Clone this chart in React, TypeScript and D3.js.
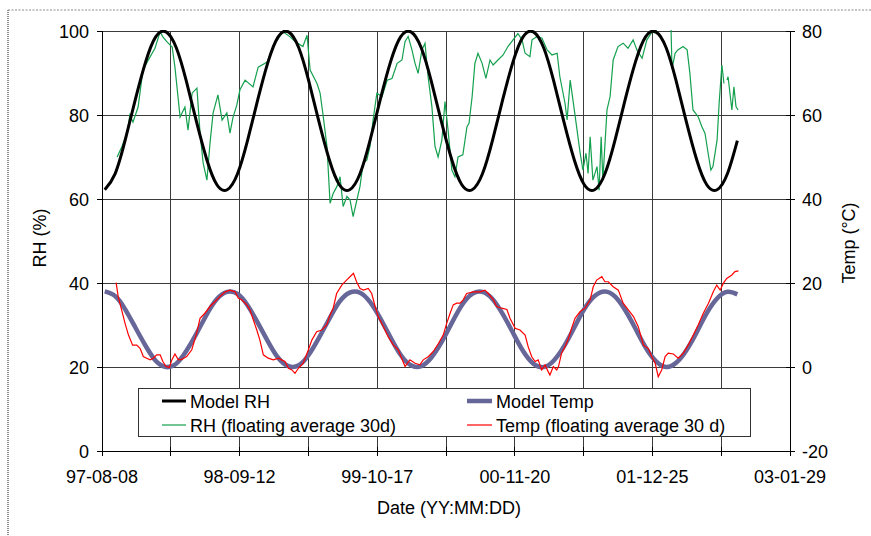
import React from "react";
import * as d3 from "d3";

const W = 871;
const H = 536;
const plot = { left: 102, right: 790, top: 31, bottom: 451 };

// x axis is days since 97-08-08
const dateLabels = ["97-08-08", "98-09-12", "99-10-17", "00-11-20", "01-12-25", "03-01-29"];
const rhTicks = [0, 20, 40, 60, 80, 100];
const tempTicks = [-20, 0, 20, 40, 60, 80];

// model curves (sampled about monthly)
const modelDay = [8, 38, 67, 97, 127, 156, 186, 216, 245, 275, 305, 334, 364, 394, 423, 453, 483, 512, 542, 572, 601, 631, 661, 690, 720, 750, 779, 809, 839, 868, 898, 928, 957, 987, 1017, 1046, 1076, 1106, 1135, 1165, 1195, 1224, 1254, 1284, 1313, 1343, 1373, 1402, 1432, 1462, 1491, 1521, 1551, 1580, 1610, 1640, 1669, 1699, 1729, 1758, 1788, 1818, 1847];
const modelRh = [
  62.2, 66.0, 73.9, 83.7, 92.7, 98.6, 99.8, 96.0, 88.1, 78.3, 69.3, 63.4,
  62.2, 66.0, 73.9, 83.7, 92.7, 98.6, 99.8, 96.0, 88.1, 78.3, 69.3, 63.4,
  62.2, 66.0, 73.9, 83.7, 92.7, 98.6, 99.8, 96.0, 88.1, 78.3, 69.3, 63.4,
  62.2, 66.0, 73.9, 83.7, 92.7, 98.6, 99.8, 96.0, 88.1, 78.3, 69.3, 63.4,
  62.2, 66.0, 73.9, 83.7, 92.7, 98.6, 99.8, 96.0, 88.1, 78.3, 69.3, 63.4,
  62.2, 66.0, 73.9,
];
const modelTemp = [
  18.0, 16.9, 13.8, 9.4, 5.0, 1.5, 0.0, 0.8, 3.8, 8.0, 12.6, 16.2,
  17.9, 17.4, 14.7, 10.5, 6.0, 2.2, 0.2, 0.4, 2.9, 7.0, 11.5, 15.5,
  17.7, 17.7, 15.5, 11.6, 7.0, 2.9, 0.4, 0.2, 2.2, 5.9, 10.5, 14.7,
  17.4, 17.9, 16.2, 12.6, 8.1, 3.8, 0.8, 0.0, 1.5, 4.9, 9.4, 13.8,
  16.9, 18.0, 16.8, 13.5, 9.1, 4.7, 1.4, 0.0, 1.0, 4.0, 8.3, 12.8,
  16.3, 17.9, 17.3,
];

// RH, floating average 30 d
const rhDay = [44, 58, 73, 81, 90, 105, 119, 134, 154, 169, 177, 189, 204, 212, 227, 241, 250, 262, 276, 285, 294, 305, 314, 323, 337, 349, 363, 372, 381, 392, 401, 416, 439, 454, 480, 503, 526, 547, 561, 584, 596, 605, 625, 634, 642, 654, 663, 672, 683, 692, 701, 712, 721, 730, 741, 750, 759, 770, 779, 788, 799, 814, 829, 843, 858, 872, 881, 890, 901, 910, 919, 930, 939, 948, 959, 968, 977, 988, 997, 1006, 1017, 1026, 1035, 1049, 1061, 1067, 1076, 1084, 1093, 1105, 1116, 1128, 1137, 1151, 1166, 1180, 1195, 1209, 1221, 1230, 1244, 1250, 1265, 1279, 1294, 1308, 1323, 1331, 1346, 1352, 1361, 1369, 1381, 1390, 1398, 1407, 1413, 1419, 1427, 1439, 1445, 1451, 1456, 1468, 1477, 1486, 1500, 1515, 1529, 1544, 1555, 1570, 1584, 1599, 1608, 1619, 1640, 1654, 1657, 1666, 1674, 1689, 1701, 1709, 1718, 1733, 1744, 1753, 1762, 1770, 1776, 1788, 1794, 1802, 1808, 1812, 1817, 1820, 1831, 1837, 1843, 1849];
const rhVal = [70, 72.5, 75.7, 80, 78.3, 81.9, 90.7, 93, 95.9, 99.8, 98.6, 97.4, 96.2, 91.4, 79.5, 81.9, 76.4, 85.2, 86.4, 75.7, 68.6, 64.5, 73.3, 80.5, 84.8, 78.8, 80.5, 75.7, 79.5, 82.4, 86, 88.3, 86.7, 91.4, 92.6, 97.1, 99.8, 98.6, 97.5, 96.3, 99, 90.7, 87.5, 85.2, 80.4, 72.5, 59, 61.3, 63, 65.3, 58.2, 60.6, 59.8, 55.8, 59.8, 63, 68.5, 69.3, 72.5, 78.8, 85.2, 84.4, 88.3, 88.7, 92.3, 93.1, 97.5, 98.7, 95.5, 92.3, 89.9, 95.5, 97.1, 89.1, 82, 72.5, 70, 74, 83.2, 76.4, 66.9, 65.3, 70, 70.5, 77.2, 78, 84.4, 92.3, 94.7, 92.3, 88.7, 93.1, 91.9, 93.1, 94.3, 96.3, 97.9, 99.4, 97.9, 94.7, 93.9, 97.9, 98.7, 98.3, 95.5, 94.3, 94.7, 89.1, 82.8, 78.8, 88.3, 83.6, 76.4, 70.9, 66.9, 70.9, 66.1, 74.8, 64.5, 67.7, 62.1, 74.8, 64.5, 81.2, 84.4, 93.1, 96.3, 97.1, 95.9, 97.9, 95.5, 93.5, 97.9, 99.8, 99.5, 101.5, 102, 101, 91, 94.7, 95.5, 96.3, 95.5, 89.9, 81.2, 79.6, 77.2, 75.6, 70.9, 66.9, 67.7, 74, 82.8, 91.9, 87.5, null, 88.3, 89.1, 81.2, 86.7, 82, 81.2];

// Temp, floating average 30 d
const tDay = [41, 47, 57, 67, 77, 89, 101, 111, 120, 130, 140, 149, 159, 169, 177, 186, 196, 203, 212, 222, 232, 246, 261, 275, 285, 299, 314, 329, 343, 358, 372, 387, 396, 406, 421, 430, 440, 450, 459, 469, 483, 498, 513, 522, 532, 542, 552, 561, 571, 585, 600, 610, 624, 639, 653, 663, 672, 682, 697, 711, 726, 731, 740, 750, 760, 774, 784, 794, 803, 818, 832, 847, 861, 871, 881, 895, 910, 924, 934, 949, 963, 978, 992, 1002, 1012, 1021, 1031, 1041, 1050, 1060, 1079, 1099, 1113, 1123, 1138, 1147, 1162, 1177, 1186, 1201, 1215, 1230, 1239, 1249, 1259, 1268, 1278, 1288, 1297, 1302, 1312, 1322, 1327, 1336, 1346, 1356, 1365, 1375, 1390, 1404, 1419, 1428, 1438, 1453, 1462, 1472, 1486, 1501, 1515, 1530, 1545, 1559, 1574, 1588, 1598, 1608, 1617, 1627, 1637, 1646, 1661, 1675, 1690, 1704, 1719, 1733, 1748, 1763, 1777, 1787, 1797, 1806, 1816, 1831, 1840, 1850];
const tVal = [20.1, 16.8, 13.6, 10.4, 7.6, 5.2, 5.2, 4.4, 2.5, 2.1, 1.7, 2.1, 2.9, 2.9, 1.3, 0.1, -0.1, 1.7, 3.1, 1.7, 1.8, 2.5, 4.1, 8, 11.6, 12.8, 14.4, 15.6, 16.8, 17.9, 18.3, 17.9, 16.4, 16, 14.8, 13.6, 11.2, 8.8, 6.4, 2.9, 2.1, 1.7, 2.1, 1.7, 1.3, -0.3, -0.7, -1.5, -0.3, 0.9, 4.1, 6.4, 8.4, 8.8, 10, 12.4, 14, 17.5, 19.5, 20.7, 21.9, 22.3, 20.3, 18.7, 18.3, 18.7, 17.5, 14.4, 12, 9.6, 7.2, 5.2, 4.1, 2.1, 0.1, 1.7, 0.9, 0.5, 1.7, 2.5, 3.7, 5.6, 7.6, 10.4, 12.8, 14.8, 15.2, 15.2, 16, 17.5, 17.9, 17.9, 18.3, 17.5, 16, 14.4, 14, 13.7, 11.6, 9.2, 8.8, 7.6, 4.8, 2.5, 1.3, 1.7, -0.7, 0.5, -1.1, -1.9, 0.1, -0.7, 0.1, 3.3, 4.8, 6.8, 9.2, 11.6, 13.2, 14, 16, 19.1, 20.7, 21.5, 20.3, 20.3, 19.1, 18.3, 15.2, 13.6, 12, 9.6, 5.2, 4.4, 2.5, 0.9, -2.3, -0.7, 2.5, 3.3, 3.1, 2.1, 3.3, 5.2, 7.6, 10, 12.8, 15.2, 17.9, 19.5, 18.3, 19.9, 21.1, 21.9, 22.7, 22.9];

type Pt = { d: number; v: number | null };
const zip = (ds: number[], vs: (number | null)[]): Pt[] => ds.map((d, i) => ({ d, v: vs[i] }));

const font = "'Liberation Sans', Arial, sans-serif";

export default function App() {
  const x = d3.scaleLinear().domain([0, 2000]).range([plot.left, plot.right]);
  const yL = d3.scaleLinear().domain([0, 100]).range([plot.bottom, plot.top]);
  const yR = d3.scaleLinear().domain([-20, 80]).range([plot.bottom, plot.top]);

  const lineL = d3
    .line<Pt>()
    .defined((p) => p.v != null)
    .x((p) => x(p.d))
    .y((p) => yL(p.v as number));
  const lineR = d3
    .line<Pt>()
    .defined((p) => p.v != null)
    .x((p) => x(p.d))
    .y((p) => yR(p.v as number));

  const gridDays = d3.range(200, 2000, 200);
  const tickDays = d3.range(0, 2001, 200);

  return (
    <svg
      width={W}
      height={H}
      style={{ position: "absolute", left: 0, top: 0, background: "#fff" }}
      fontFamily={font}
      fontSize={18}
    >
      <defs>
        <clipPath id="plotClip">
          <rect x={plot.left} y={plot.top - 1} width={plot.right - plot.left} height={plot.bottom - plot.top + 1} />
        </clipPath>
      </defs>

      {/* dotted page frame */}
      <line x1={8} y1={10} x2={W} y2={10} stroke="#8a8a8a" strokeDasharray="2,1.5" />
      <line x1={8} y1={10} x2={8} y2={H} stroke="#8a8a8a" strokeWidth={2} strokeDasharray="1,1" />

      {/* grid */}
      <g stroke="#3a3a3a" strokeWidth={1} shapeRendering="crispEdges">
        {rhTicks.slice(1).map((v) => (
          <line key={"h" + v} x1={plot.left} x2={plot.right} y1={yL(v)} y2={yL(v)} />
        ))}
        {gridDays.map((d) => (
          <line key={"v" + d} x1={x(d)} x2={x(d)} y1={plot.top} y2={plot.bottom} />
        ))}
      </g>

      {/* series */}
      <g clipPath="url(#plotClip)" fill="none">
        <path d={lineL(zip(rhDay, rhVal)) || ""} stroke="#14a04e" strokeWidth={1.2} />
        <path
          d={lineL.curve(d3.curveNatural)(zip(modelDay, modelRh)) || ""}
          stroke="#000"
          strokeWidth={3}
        />
        <path
          d={lineR.curve(d3.curveNatural)(zip(modelDay, modelTemp)) || ""}
          stroke="#666699"
          strokeWidth={4.5}
        />
        <path
          d={lineR.curve(d3.curveLinear)(zip(tDay, tVal)) || ""}
          stroke="#ff0000"
          strokeWidth={1.2}
        />
      </g>

      {/* axes */}
      <g stroke="#000" strokeWidth={1} shapeRendering="crispEdges">
        <line x1={plot.left} x2={plot.left} y1={plot.top} y2={plot.bottom} />
        <line x1={plot.right} x2={plot.right} y1={plot.top} y2={plot.bottom} />
        <line x1={plot.left} x2={plot.right} y1={plot.bottom} y2={plot.bottom} />
        {rhTicks.map((v) => (
          <line key={"lt" + v} x1={plot.left - 5} x2={plot.left} y1={yL(v)} y2={yL(v)} />
        ))}
        {tempTicks.map((v) => (
          <line key={"rt" + v} x1={plot.right - 4} x2={plot.right + 5} y1={yR(v)} y2={yR(v)} />
        ))}
        {tickDays.map((d) => (
          <line key={"bt" + d} x1={x(d)} x2={x(d)} y1={plot.bottom - 4} y2={plot.bottom + 5} />
        ))}
      </g>

      <g fill="#000">
        {rhTicks.map((v) => (
          <text key={"ll" + v} x={plot.left - 13} y={yL(v) + 6.5} textAnchor="end">
            {v}
          </text>
        ))}
        {tempTicks.map((v) => (
          <text key={"rl" + v} x={plot.right + 12} y={yR(v) + 6.5} textAnchor="start">
            {v}
          </text>
        ))}
        {dateLabels.map((s, i) => (
          <text key={s} x={x(i * 400)} y={483} textAnchor="middle">
            {s}
          </text>
        ))}
        <text x={449} y={514} textAnchor="middle">
          Date (YY:MM:DD)
        </text>
        <text transform="translate(46,238) rotate(-90)" textAnchor="middle">
          RH (%)
        </text>
        <text transform="translate(855,243) rotate(-90)" textAnchor="middle">
          Temp (°C)
        </text>
      </g>

      {/* legend */}
      <g>
        <rect x={138.5} y={388.5} width={612} height={48} fill="#fff" stroke="#333" strokeWidth={1} />
        <line x1={162} x2={186} y1={401} y2={401} stroke="#000" strokeWidth={3} />
        <text x={190} y={408}>Model RH</text>
        <line x1={162} x2={186} y1={425} y2={425} stroke="#14a04e" strokeWidth={1.2} />
        <text x={190} y={432}>RH (floating average 30d)</text>
        <line x1={467} x2={492} y1={401} y2={401} stroke="#666699" strokeWidth={4.5} />
        <text x={496} y={408}>Model Temp</text>
        <line x1={467} x2={492} y1={425} y2={425} stroke="#ff0000" strokeWidth={1.2} />
        <text x={496} y={432}>Temp (floating average 30 d)</text>
      </g>
    </svg>
  );
}
